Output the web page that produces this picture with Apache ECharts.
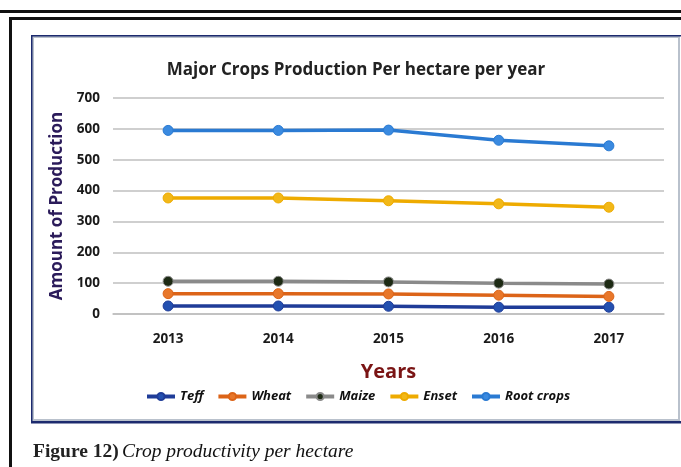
<!DOCTYPE html>
<html>
<head>
<meta charset="utf-8">
<script src="https://cdn.jsdelivr.net/npm/echarts@6/dist/echarts.min.js"></script>
<style>
  html, body { margin: 0; padding: 0; background: #fff; }
  #chart { width: 681px; height: 467px; }
</style>
</head>
<body>
<div id="chart"></div>
<script>
// Years on the category axis
const years = ['2013', '2014', '2015', '2016', '2017'];

// Production per hectare for each crop
const teff = [26, 26, 25, 22, 22];
const wheat = [66, 66, 65, 61, 57];
const maize = [106, 106, 104, 100, 97];
const enset = [376, 376, 367, 357, 346];
const rootCrops = [595, 595, 596, 563, 545];

// Value axis ticks
const yTicks = [0, 100, 200, 300, 400, 500, 600, 700];

const chart = echarts.init(document.getElementById('chart'), null, { renderer: 'canvas' });

const UI = '"Open Sans", "Noto Sans", sans-serif';

function crop(name, data, color, markerColor) {
  return {
    name: name,
    type: 'line',
    data: data,
    symbol: 'circle',
    symbolSize: 10,
    lineStyle: { color: color, width: 3.5 },
    itemStyle: { color: markerColor || color, borderColor: color, borderWidth: 1 },
    emphasis: { disabled: true }
  };
}

chart.setOption({
  animation: false,
  backgroundColor: '#ffffff',
  title: {
    text: 'Major Crops Production Per hectare per year',
    left: 351,
    textAlign: 'center',
    top: 57,
    textStyle: { fontFamily: UI, fontSize: 17, fontWeight: 700, color: '#222' }
  },
  legend: {
    data: ['Teff', 'Wheat', 'Maize', 'Enset', 'Root crops'],
    left: 140,
    top: 385,
    itemWidth: 28,
    itemHeight: 9,
    itemGap: 13,
    lineStyle: { width: 4 },
    textStyle: { fontFamily: UI, fontSize: 13, fontWeight: 700, fontStyle: 'italic', color: '#111' }
  },
  grid: { left: 113, right: 17, top: 98, bottom: 153, containLabel: false },
  xAxis: {
    type: 'category',
    data: years,
    boundaryGap: true,
    name: 'Years',
    nameLocation: 'middle',
    nameGap: 48,
    nameTextStyle: { fontFamily: UI, fontSize: 20, fontWeight: 700, color: '#7a1414' },
    axisLine: { show: true, lineStyle: { color: '#bfbfbf', width: 1.5 } },
    axisTick: { show: false },
    axisLabel: { fontFamily: UI, fontSize: 13.5, fontWeight: 700, color: '#1a1a1a', margin: 18 }
  },
  yAxis: {
    type: 'value',
    min: yTicks[0],
    max: yTicks[yTicks.length - 1],
    interval: 100,
    name: 'Amount of Production',
    nameLocation: 'middle',
    nameGap: 36,
    nameTextStyle: { fontFamily: UI, fontSize: 17, fontWeight: 700, color: '#2b1b5a' },
    axisLine: { show: false },
    axisTick: { show: false },
    splitLine: { lineStyle: { color: '#bfbfbf', width: 1.5 } },
    axisLabel: { fontFamily: UI, fontSize: 13.5, fontWeight: 700, color: '#1a1a1a', margin: 13 }
  },
  series: [
    crop('Teff', teff, '#1f3c98', '#2350b0'),
    crop('Wheat', wheat, '#dc6418', '#e8772a'),
    crop('Maize', maize, '#8a8a8a', '#1d2a14'),
    crop('Enset', enset, '#eeab00', '#f2b818'),
    crop('Root crops', rootCrops, '#2a7ad2', '#3a8ae0')
  ],
  graphic: [
    // page rules and frame
    { type: 'rect', shape: { x: 0, y: 10, width: 681, height: 3 }, style: { fill: '#111' }, z: 10 },
    { type: 'rect', shape: { x: 9, y: 17, width: 672, height: 3 }, style: { fill: '#111' }, z: 10 },
    { type: 'rect', shape: { x: 9, y: 17, width: 3, height: 450 }, style: { fill: '#111' }, z: 10 },
    // chart box
    { type: 'rect', shape: { x: 33, y: 37, width: 646, height: 383 }, style: { fill: 'none', stroke: '#b9c1cc', lineWidth: 2 }, z: 10 },
    { type: 'rect', shape: { x: 31, y: 35, width: 650, height: 1.5 }, style: { fill: '#1c2a6e' }, z: 11 },
    { type: 'rect', shape: { x: 31, y: 35, width: 1.5, height: 388 }, style: { fill: '#1c2a6e' }, z: 11 },
    { type: 'rect', shape: { x: 31, y: 421, width: 650, height: 2.5 }, style: { fill: '#1c2a6e' }, z: 11 },
    // caption
    {
      type: 'text', x: 33, y: 452, z: 11,
      style: {
        text: '{b|Figure 12)} {i|Crop productivity per hectare}',
        verticalAlign: 'middle',
        rich: {
          b: { fontFamily: '"Liberation Serif", serif', fontSize: 19.5, fontWeight: 600, fill: '#222' },
          i: { fontFamily: '"Liberation Serif", serif', fontSize: 19.5, fontStyle: 'italic', fill: '#111' }
        }
      }
    }
  ]
});
</script>
</body>
</html>
